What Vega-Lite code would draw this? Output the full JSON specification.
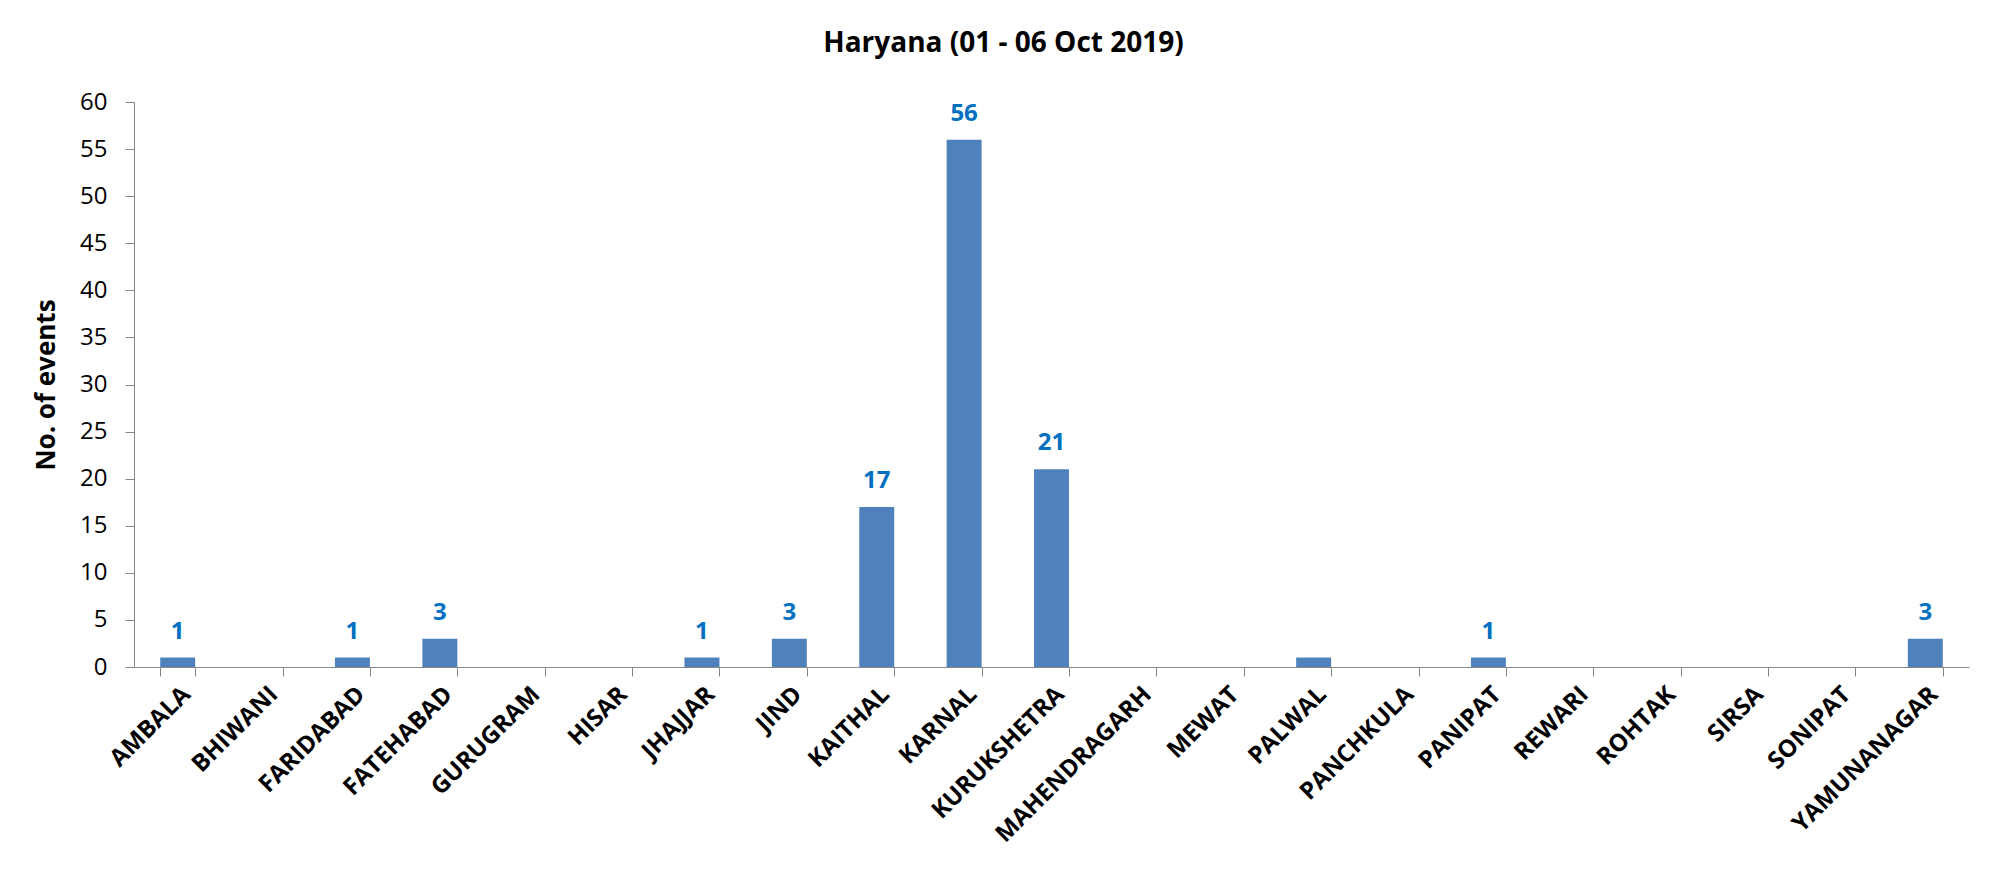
{
  "$schema": "https://vega.github.io/schema/vega-lite/v6.json",
  "autosize": {"type": "none"},
  "padding": {"left": 134, "top": 102, "right": 35, "bottom": 229},
  "width": 1835,
  "height": 565,
  "background": "white",
  "title": {
    "text": "Haryana (01 - 06 Oct 2019)",
    "font": "Open Sans",
    "fontSize": 28,
    "fontWeight": "bold",
    "color": "black",
    "anchor": "middle",
    "frame": "group",
    "dx": -48,
    "offset": 32
  },
  "data": {
    "values": [
      {"district": "AMBALA", "events": 1, "label": "1"},
      {"district": "BHIWANI", "events": 0, "label": null},
      {"district": "FARIDABAD", "events": 1, "label": "1"},
      {"district": "FATEHABAD", "events": 3, "label": "3"},
      {"district": "GURUGRAM", "events": 0, "label": null},
      {"district": "HISAR", "events": 0, "label": null},
      {"district": "JHAJJAR", "events": 1, "label": "1"},
      {"district": "JIND", "events": 3, "label": "3"},
      {"district": "KAITHAL", "events": 17, "label": "17"},
      {"district": "KARNAL", "events": 56, "label": "56"},
      {"district": "KURUKSHETRA", "events": 21, "label": "21"},
      {"district": "MAHENDRAGARH", "events": 0, "label": null},
      {"district": "MEWAT", "events": 0, "label": null},
      {"district": "PALWAL", "events": 1, "label": null},
      {"district": "PANCHKULA", "events": 0, "label": null},
      {"district": "PANIPAT", "events": 1, "label": "1"},
      {"district": "REWARI", "events": 0, "label": null},
      {"district": "ROHTAK", "events": 0, "label": null},
      {"district": "SIRSA", "events": 0, "label": null},
      {"district": "SONIPAT", "events": 0, "label": null},
      {"district": "YAMUNANAGAR", "events": 3, "label": "3"}
    ]
  },
  "encoding": {
    "x": {
      "field": "district",
      "type": "nominal",
      "sort": null,
      "scale": {"paddingInner": 0.6, "paddingOuter": 0.3},
      "axis": {
        "title": null,
        "tickBand": "extent",
        "labelAngle": -45,
        "labelFont": "Open Sans",
        "labelFontSize": 24,
        "labelFontWeight": "bold",
        "labelColor": "black",
        "labelPadding": 6,
        "labelLimit": 500,
        "tickSize": 9,
        "tickColor": "#888888",
        "domainColor": "#888888",
        "labelOverlap": false
      }
    },
    "y": {
      "field": "events",
      "type": "quantitative",
      "scale": {"domain": [0, 60], "nice": false},
      "axis": {
        "title": "No. of events",
        "titleFont": "Open Sans",
        "titleFontSize": 26,
        "titleFontWeight": "bold",
        "titleColor": "black",
        "titlePadding": 20,
        "values": [0, 5, 10, 15, 20, 25, 30, 35, 40, 45, 50, 55, 60],
        "grid": false,
        "labelFont": "Open Sans",
        "labelFontSize": 24,
        "labelColor": "black",
        "labelPadding": 18,
        "tickSize": 9,
        "tickColor": "#888888",
        "domainColor": "#888888"
      }
    }
  },
  "layer": [
    {"mark": {"type": "bar", "color": "#4F81BD"}},
    {
      "transform": [{"filter": "datum.label != null"}],
      "mark": {
        "type": "text",
        "baseline": "alphabetic",
        "dy": -19,
        "font": "Open Sans",
        "fontSize": 24,
        "fontWeight": "bold",
        "color": "#0070C0"
      },
      "encoding": {"text": {"field": "label"}}
    }
  ],
  "config": {"view": {"stroke": null}}
}
